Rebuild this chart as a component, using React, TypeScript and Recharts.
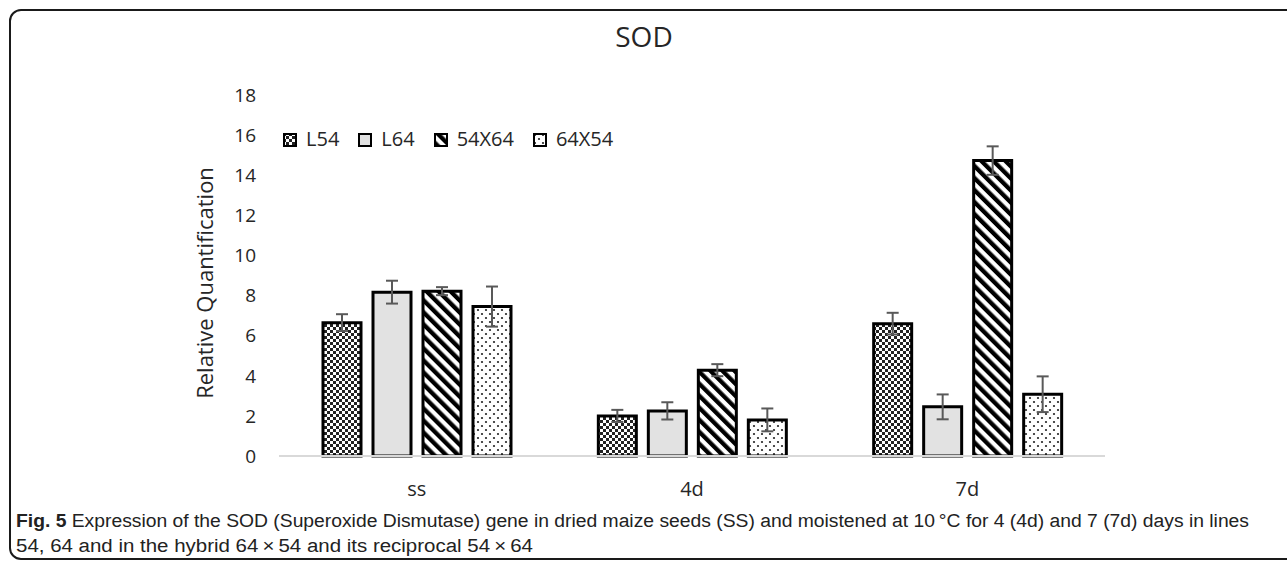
import React from 'react';
import { BarChart, Bar, XAxis, YAxis, ErrorBar } from 'recharts';

const FONT = "'Open Sans', 'Noto Sans', sans-serif";
const CAPTION_FONT = "'Liberation Sans', 'DejaVu Sans', sans-serif";
const TEXT = '#262626';
const ERR = '#595959';

const categories = ['ss', '4d', '7d'];
const l54 = [6.65, 2.0, 6.6];
const l54Err = [0.42, 0.3, 0.54];
const l64 = [8.17, 2.25, 2.45];
const l64Err = [0.57, 0.43, 0.62];
const h5464 = [8.22, 4.28, 14.73];
const h5464Err = [0.2, 0.3, 0.71];
const h6454 = [7.45, 1.8, 3.08];
const h6454Err = [1.0, 0.57, 0.89];
const yTicks = [0, 2, 4, 6, 8, 10, 12, 14, 16, 18];

const SERIES = [
  { key: 'l54', name: 'L54', fill: 'url(#pat-check)' },
  { key: 'l64', name: 'L64', fill: '#e2e2e2' },
  { key: 'h5464', name: '54X64', fill: 'url(#pat-stripe)' },
  { key: 'h6454', name: '64X54', fill: 'url(#pat-dots)' },
];

const data = categories.map((c, i) => ({
  cat: c,
  l54: l54[i],
  l54Err: l54Err[i],
  l64: l64[i],
  l64Err: l64Err[i],
  h5464: h5464[i],
  h5464Err: h5464Err[i],
  h6454: h6454[i],
  h6454Err: h6454Err[i],
}));

function Patterns() {
  return (
    <defs>
      <pattern id="pat-check" width="6" height="6" patternUnits="userSpaceOnUse">
        <rect width="6" height="6" fill="#fff" />
        <rect x="0" y="0" width="3" height="3" fill="#222" />
        <rect x="3" y="3" width="3" height="3" fill="#222" />
      </pattern>
      <pattern id="pat-stripe" width="8.5" height="8.5" patternUnits="userSpaceOnUse" patternTransform="rotate(-45)">
        <rect width="8.5" height="8.5" fill="#fff" />
        <rect x="0" y="0" width="4.3" height="8.5" fill="#000" />
      </pattern>
      <pattern id="pat-dots" width="8" height="8" patternUnits="userSpaceOnUse">
        <rect width="8" height="8" fill="#fff" />
        <circle cx="2" cy="2" r="1.1" fill="#222" />
        <circle cx="6" cy="6" r="1.1" fill="#222" />
      </pattern>
    </defs>
  );
}

export default function App() {
  return (
    <div style={{ position: 'relative', width: 1287, height: 565, background: '#fff', overflow: 'hidden' }}>
      <style>{'body{margin:0}'}</style>

      {/* figure frame, runs off the right edge */}
      <div
        style={{
          position: 'absolute',
          left: 9,
          top: 9,
          width: 1300,
          height: 551,
          border: '2px solid #1a1a1a',
          borderRadius: '12px 0 0 12px',
          boxSizing: 'border-box',
        }}
      />

      <div style={{ position: 'absolute', left: 0, top: 0 }}>
        <BarChart
          width={1287}
          height={565}
          data={data}
          margin={{ top: 95, right: 182, bottom: 59, left: 0 }}
          barGap={12}
        >
          <Patterns />
          <XAxis
            dataKey="cat"
            height={50}
            axisLine={{ stroke: '#d9d9d9', strokeWidth: 2 }}
            tickLine={false}
            tickSize={0}
            tickMargin={26}
            tick={{ fill: TEXT, fontSize: 20, fontFamily: FONT }}
          />
          <YAxis
            width={279}
            domain={[0, 18]}
            ticks={yTicks}
            axisLine={false}
            tickLine={false}
            tickSize={0}
            tickMargin={23}
            tick={{ fill: TEXT, fontSize: 19, fontFamily: FONT }}
          />
          {SERIES.map((s) => (
            <Bar
              key={s.key}
              dataKey={s.key}
              name={s.name}
              fill={s.fill}
              stroke="#000"
              strokeWidth={3}
              barSize={38}
              isAnimationActive={false}
            >
              <ErrorBar dataKey={s.key + 'Err'} width={6} stroke={ERR} strokeWidth={2} />
            </Bar>
          ))}
        </BarChart>
      </div>

      {/* legend */}
      <div
        style={{
          position: 'absolute',
          left: 283,
          top: 129,
          display: 'flex',
          fontFamily: FONT,
          fontSize: 20,
          lineHeight: '20px',
          color: TEXT,
        }}
      >
        {SERIES.map((s) => (
          <div key={s.key} style={{ display: 'flex', alignItems: 'flex-start', marginRight: 19 }}>
            <svg width={14} height={14} style={{ marginTop: 4, marginRight: 9, display: 'block' }}>
              <rect x={1} y={1} width={12} height={12} fill={s.fill} stroke="#000" strokeWidth={2} />
            </svg>
            <span>{s.name}</span>
          </div>
        ))}
      </div>

      {/* title, axis title and caption */}
      <svg
        width={1287}
        height={565}
        style={{ position: 'absolute', left: 0, top: 0, pointerEvents: 'none' }}
      >
        <text x={644} y={47} textAnchor="middle" fontFamily={FONT} fontSize={28} fill={TEXT}>
          SOD
        </text>
        <text
          x={0}
          y={0}
          transform="translate(213, 283) rotate(-90)"
          textAnchor="middle"
          fontFamily={FONT}
          fontSize={22}
          fill={TEXT}
        >
          Relative Quantification
        </text>
        <text
          x={16}
          y={527}
          fontFamily={CAPTION_FONT}
          fontSize={18}
          fill="#222"
          textLength={1233}
          lengthAdjust="spacingAndGlyphs"
        >
          <tspan fontWeight="bold">Fig. 5</tspan> Expression of the SOD (Superoxide Dismutase) gene in dried maize seeds (SS) and moistened at 10{'\u2009'}°C for 4 (4d) and 7 (7d) days in lines
        </text>
        <text
          x={16}
          y={552}
          fontFamily={CAPTION_FONT}
          fontSize={18}
          fill="#222"
          textLength={517}
          lengthAdjust="spacingAndGlyphs"
        >
          54, 64 and in the hybrid 64{'\u2009'}×{'\u2009'}54 and its reciprocal 54{'\u2009'}×{'\u2009'}64
        </text>
      </svg>
    </div>
  );
}
